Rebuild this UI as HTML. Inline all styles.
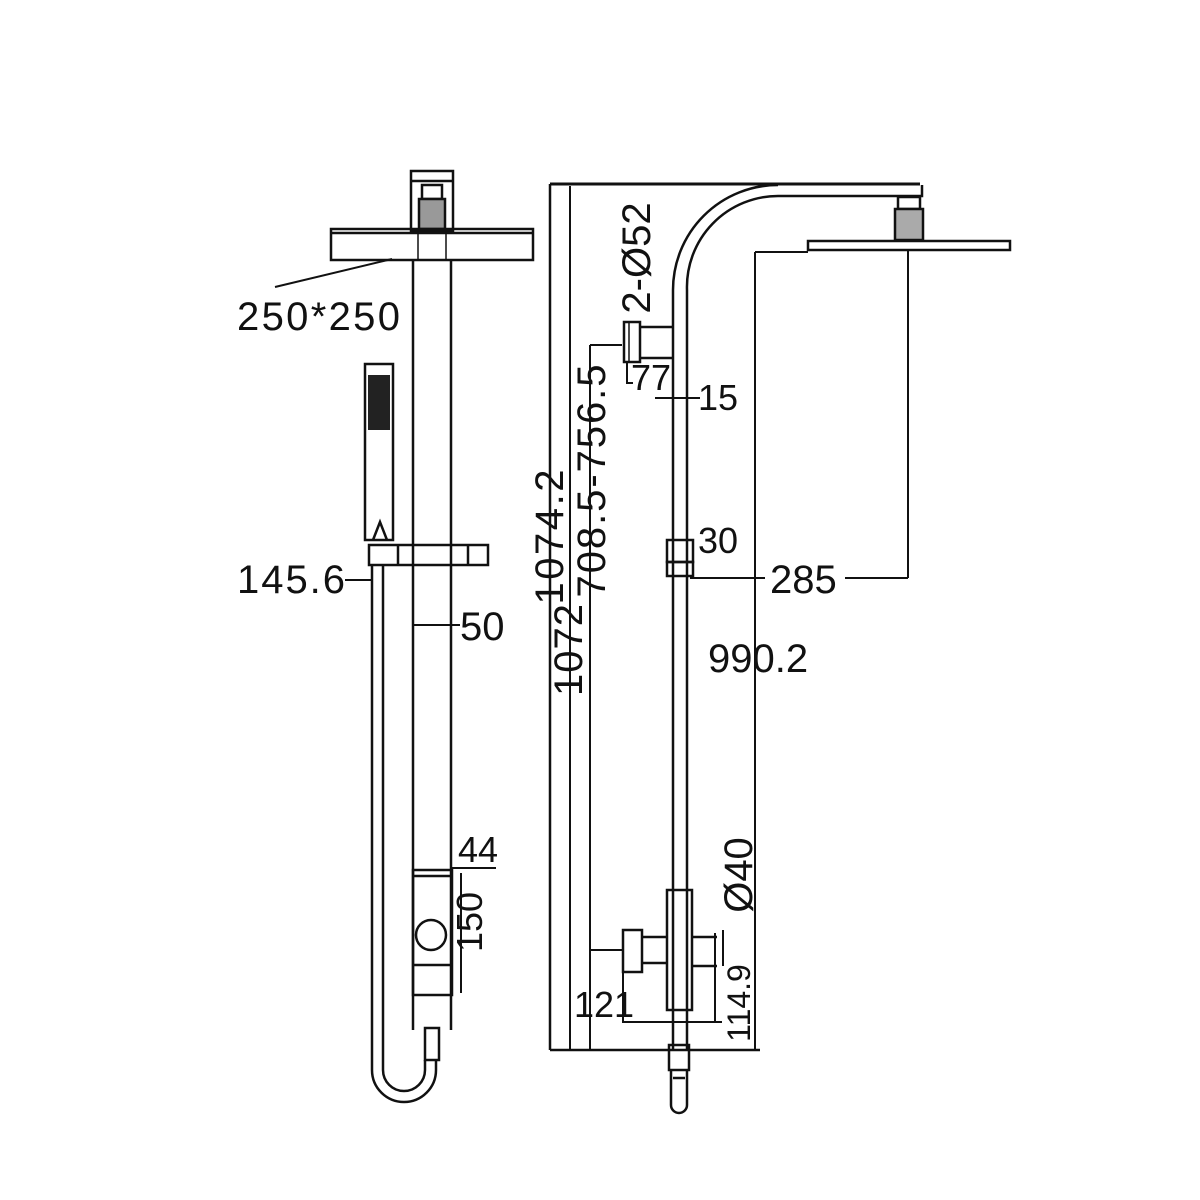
<!DOCTYPE html>
<html><head><meta charset="utf-8"><style>html,body{margin:0;padding:0;background:#fff}svg{display:block}</style></head>
<body>
<svg width="1200" height="1200" viewBox="0 0 1200 1200" xmlns="http://www.w3.org/2000/svg" font-family="Liberation Sans, Arial, sans-serif" font-size="40" fill="none" stroke="#111" stroke-width="2.5">
<!-- LEFT VIEW -->
<rect x="411" y="171" width="42" height="60"/>
<line x1="411" y1="181" x2="453" y2="181"/>
<rect x="422" y="185" width="20" height="14"/>
<rect x="419" y="199" width="26" height="30" fill="#999"/>
<rect x="331" y="229" width="202" height="31"/>
<line x1="331" y1="233" x2="533" y2="233"/>
<line x1="413" y1="260" x2="413" y2="1030"/>
<line x1="451" y1="260" x2="451" y2="1030"/>
<line x1="418" y1="231" x2="418" y2="260" stroke-width="1.5"/>
<line x1="446" y1="231" x2="446" y2="260" stroke-width="1.5"/>
<line x1="275" y1="287" x2="392" y2="259" stroke-width="2"/>
<text x="237" y="330" fill="#111" stroke="none" textLength="163">250*250</text>
<!-- hand shower -->
<rect x="365" y="364" width="28" height="176"/>
<rect x="368" y="375" width="22" height="55" fill="#222" stroke="none"/>
<path d="M373 540 L380 522 L387 540" />
<rect x="369" y="545" width="119" height="20"/>
<line x1="398" y1="545" x2="398" y2="565"/>
<line x1="468" y1="545" x2="468" y2="565"/>
<!-- hose -->
<line x1="372" y1="565" x2="372" y2="1070"/>
<line x1="383" y1="565" x2="383" y2="1070"/>
<path d="M372 1070 A32 32 0 0 0 436 1070 L436 1060"/>
<path d="M383 1070 A21 21 0 0 0 425 1070 L425 1060"/>
<rect x="425" y="1028" width="14" height="32"/>
<text x="237" y="593" fill="#111" stroke="none" textLength="108">145.6</text>
<line x1="345" y1="580" x2="372" y2="580" stroke-width="2"/>
<line x1="413" y1="625" x2="460" y2="625" stroke-width="2"/>
<text x="460" y="640" fill="#111" stroke="none">50</text>
<!-- valve -->
<rect x="413" y="870" width="39" height="125"/>
<line x1="413" y1="876" x2="452" y2="876"/>
<line x1="413" y1="965" x2="452" y2="965"/>
<circle cx="431" cy="935" r="15"/>
<text x="458" y="862" fill="#111" stroke="none" font-size="36">44</text>
<line x1="452" y1="868" x2="496" y2="868" stroke-width="2"/>
<line x1="461" y1="873" x2="461" y2="993" stroke-width="2"/>
<text transform="translate(482,922) rotate(-90)" text-anchor="middle" fill="#111" stroke="none" font-size="36">150</text>
<!-- RIGHT VIEW -->
<line x1="550" y1="184" x2="920" y2="184" stroke-width="3"/>
<line x1="550" y1="184" x2="550" y2="1050"/>
<line x1="570" y1="186" x2="570" y2="1050" stroke-width="2"/>
<line x1="590" y1="345" x2="590" y2="1050" stroke-width="2"/>
<line x1="550" y1="1050" x2="760" y2="1050"/>
<path d="M673 1050 L673 290 A105 105 0 0 1 778 185"/>
<path d="M687 1050 L687 290 A91 91 0 0 1 778 196 L922 196 L922 185"/>
<rect x="898" y="197" width="22" height="12"/>
<rect x="895" y="209" width="28" height="31" fill="#aaa"/>
<rect x="808" y="241" width="202" height="9"/>
<line x1="755" y1="252" x2="808" y2="252" stroke-width="2"/>
<line x1="755" y1="252" x2="755" y2="1050" stroke-width="2"/>
<line x1="908" y1="250" x2="908" y2="578" stroke-width="2"/>
<line x1="690" y1="578" x2="765" y2="578" stroke-width="2"/>
<line x1="845" y1="578" x2="908" y2="578" stroke-width="2"/>
<text x="770" y="593" fill="#111" stroke="none">285</text>
<text x="708" y="672" fill="#111" stroke="none">990.2</text>
<!-- wall bracket -->
<rect x="624" y="322" width="16" height="40"/>
<line x1="629" y1="322" x2="629" y2="362" stroke-width="1.5"/>
<line x1="640" y1="327" x2="673" y2="327"/>
<line x1="640" y1="358" x2="673" y2="358"/>
<path d="M590 345 L622 345" stroke-width="2"/>
<path d="M627 362 L627 383 L633 383" stroke-width="2"/>
<text transform="translate(631,390)" fill="#111" stroke="none" font-size="36">77</text>
<text transform="translate(650,258) rotate(-90)" text-anchor="middle" fill="#111" stroke="none" font-size="40">2-Ø52</text>
<line x1="655" y1="398" x2="700" y2="398" stroke-width="2"/>
<text x="698" y="410" fill="#111" stroke="none" font-size="36">15</text>
<rect x="667" y="540" width="26" height="22"/>
<rect x="667" y="562" width="26" height="14"/>
<text x="698" y="553" fill="#111" stroke="none" font-size="36">30</text>
<!-- rotated dims -->
<text transform="translate(563,537) rotate(-90)" text-anchor="middle" fill="#111" stroke="none" textLength="135">1074.2</text>
<text transform="translate(582,650) rotate(-90)" text-anchor="middle" fill="#111" stroke="none" textLength="92">1072</text>
<text transform="translate(605,481) rotate(-90)" text-anchor="middle" fill="#111" stroke="none" textLength="233">708.5-756.5</text>
<!-- bottom valve -->
<rect x="667" y="890" width="25" height="120"/>
<rect x="623" y="930" width="19" height="42"/>
<line x1="642" y1="937" x2="667" y2="937"/>
<line x1="642" y1="963" x2="667" y2="963"/>
<line x1="692" y1="937" x2="717" y2="937"/>
<line x1="692" y1="966" x2="717" y2="966"/>
<line x1="715" y1="933" x2="715" y2="1022" stroke-width="2"/>
<line x1="723" y1="930" x2="723" y2="966" stroke-width="2"/>
<line x1="590" y1="950" x2="623" y2="950" stroke-width="2"/>
<path d="M623 972 L623 1022 L722 1022" stroke-width="2"/>
<text transform="translate(752,875) rotate(-90)" text-anchor="middle" fill="#111" stroke="none">Ø40</text>
<text transform="translate(750,1003) rotate(-90)" text-anchor="middle" fill="#111" stroke="none" font-size="32">114.9</text>
<text x="574" y="1017" fill="#111" stroke="none" font-size="36">121</text>
<!-- bottom fitting -->
<rect x="669" y="1045" width="20" height="25"/>
<path d="M671 1070 L671 1105 A8 8 0 0 0 687 1105 L687 1070"/>
<line x1="673" y1="1078" x2="685" y2="1078"/>
</svg>
</body></html>
